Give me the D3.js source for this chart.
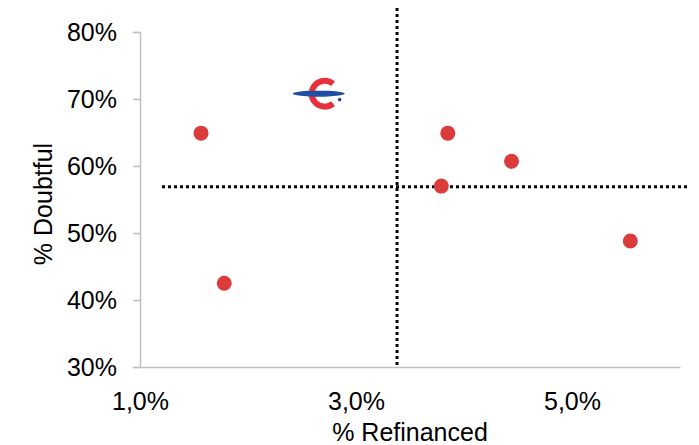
<!DOCTYPE html>
<html>
<head>
<meta charset="utf-8">
<script src="https://cdn.jsdelivr.net/npm/d3@7"></script>
<style>
  body { margin: 0; background: #fff; }
  text { font-family: "Liberation Sans", Arial, sans-serif; fill: #000; }
</style>
</head>
<body>
<div id="chart"></div>
<script>
// chart size
const width = 699;
const height = 445;
const margin = {top: 32, right: 19, bottom: 78, left: 140};

// data (fractions)
const refinanced = [0.01565, 0.0178, 0.0385, 0.0444, 0.0379, 0.0554];
const doubtful   = [0.649, 0.425, 0.649, 0.607, 0.570, 0.488];
const meanRefinanced = 0.0338;
const meanDoubtful = 0.569;
const logoPoint = [0.0271, 0.708];

const xTicks = [0.01, 0.03, 0.05];
const yTicks = [0.3, 0.4, 0.5, 0.6, 0.7, 0.8];

const svg = d3.select("#chart").append("svg")
    .attr("width", width)
    .attr("height", height);

const x = d3.scaleLinear()
    .domain([0.01, 0.06])
    .range([margin.left, width - margin.right]);

const y = d3.scaleLinear()
    .domain([0.3, 0.8])
    .range([367, margin.top]);

const fmtX = v => d3.format(".1%")(v).replace(".", ",");
const fmtY = d3.format(".0%");

// y axis
const yAxis = svg.append("g")
    .attr("transform", `translate(${x(0.01)},0)`)
    .call(d3.axisLeft(y).tickValues(yTicks).tickFormat(fmtY).tickSize(7).tickPadding(16));
yAxis.select(".domain").attr("stroke", "#c0c0c0").attr("stroke-width", 1.5);
yAxis.selectAll(".tick line").attr("stroke", "#c0c0c0").attr("stroke-width", 1.5);
yAxis.selectAll(".tick text").style("font-size", "25px").attr("fill", "#000");

// x axis
const xAxis = svg.append("g")
    .attr("transform", `translate(0,${y(0.3)})`)
    .call(d3.axisBottom(x).tickValues(xTicks).tickFormat(fmtX).tickSize(0));
xAxis.select(".domain").attr("stroke", "#c0c0c0").attr("stroke-width", 1.5);
xAxis.selectAll(".tick text")
    .style("font-size", "25px")
    .attr("fill", "#000")
    .attr("y", 43)
    .attr("dy", 0);

// axis titles
svg.append("text")
    .attr("x", 410)
    .attr("y", 441)
    .attr("text-anchor", "middle")
    .style("font-size", "25px")
    .text("% Refinanced");

svg.append("text")
    .attr("transform", `translate(52,204) rotate(-90)`)
    .attr("text-anchor", "middle")
    .style("font-size", "25px")
    .text("% Doubtful");

// dotted mean lines
svg.append("line")
    .attr("x1", x(meanRefinanced)).attr("x2", x(meanRefinanced))
    .attr("y1", 8).attr("y2", y(0.3))
    .attr("stroke", "#000").attr("stroke-width", 3).attr("stroke-dasharray", "3,3");

svg.append("line")
    .attr("x1", 162).attr("x2", 690)
    .attr("y1", y(meanDoubtful)).attr("y2", y(meanDoubtful))
    .attr("stroke", "#000").attr("stroke-width", 3).attr("stroke-dasharray", "3,3");

// points
svg.append("g")
    .selectAll("circle")
    .data(refinanced.map((r, i) => [r, doubtful[i]]))
    .join("circle")
    .attr("cx", d => x(d[0]))
    .attr("cy", d => y(d[1]))
    .attr("r", 7.5)
    .attr("fill", "#dc3b3b");

// logo mark
const logo = svg.append("g")
    .attr("transform", `translate(${x(logoPoint[0])},${y(logoPoint[1])})`);
logo.append("path")
    .attr("d", d3.arc()
        .innerRadius(10).outerRadius(16)
        .startAngle(140 * Math.PI / 180)
        .endAngle(400 * Math.PI / 180)())
    .attr("fill", "#e8303c");
logo.append("ellipse")
    .attr("cx", -6).attr("cy", 0)
    .attr("rx", 26).attr("ry", 3)
    .attr("fill", "#1f4fa0");
logo.append("circle")
    .attr("cx", 15).attr("cy", 6).attr("r", 1.8)
    .attr("fill", "#1f4fa0");
</script>
</body>
</html>
